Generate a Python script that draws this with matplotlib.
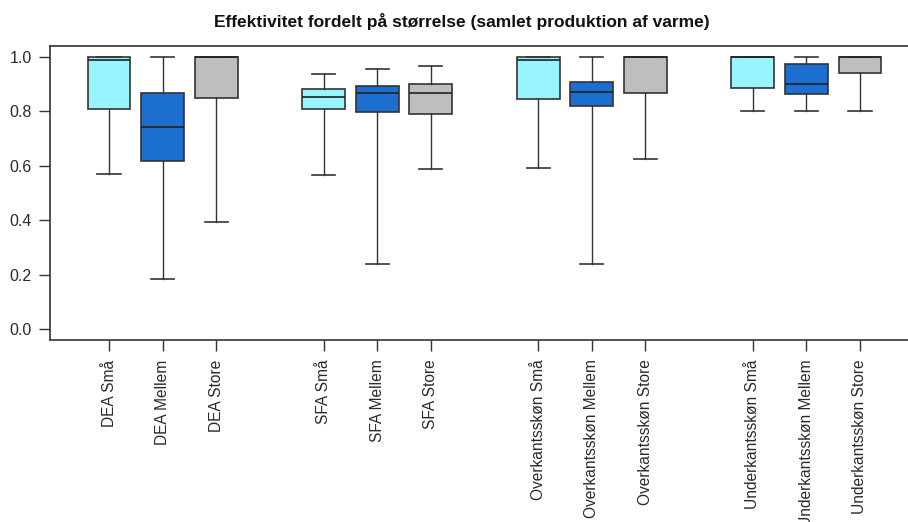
import matplotlib
matplotlib.use("Agg")
import matplotlib.pyplot as plt

plt.rcParams['font.family'] = ['Liberation Sans', 'DejaVu Sans']

labels = ["DEA Små", "DEA Mellem", "DEA Store",
          "SFA Små", "SFA Mellem", "SFA Store",
          "Overkantsskøn Små", "Overkantsskøn Mellem", "Overkantsskøn Store",
          "Underkantsskøn Små", "Underkantsskøn Mellem", "Underkantsskøn Store"]
positions = [1, 2, 3, 5, 6, 7, 9, 10, 11, 13, 14, 15]

whislo = [0.570, 0.184, 0.394, 0.567, 0.241, 0.589, 0.592, 0.241, 0.625, 0.800, 0.800, 0.800]
q1     = [0.807, 0.617, 0.850, 0.807, 0.797, 0.789, 0.845, 0.818, 0.868, 0.886, 0.864, 0.942]
med    = [0.989, 0.742, 1.000, 0.853, 0.866, 0.868, 0.989, 0.872, 1.000, 1.000, 0.901, 1.000]
q3     = [1.000, 0.868, 1.000, 0.882, 0.893, 0.900, 1.000, 0.907, 1.000, 1.000, 0.974, 1.000]
whishi = [1.000, 1.000, 1.000, 0.936, 0.954, 0.965, 1.000, 1.000, 1.000, 1.000, 1.000, 1.000]

size_colors = ["#98F5FF", "#1C6ECF", "#BEBEBE"]
title = "Effektivitet fordelt på størrelse (samlet produktion af varme)"

stats = []
for i in range(len(labels)):
    stats.append(dict(label=labels[i], whislo=whislo[i], q1=q1[i], med=med[i],
                      q3=q3[i], whishi=whishi[i], fliers=[]))

fig = plt.figure(figsize=(9.08, 5.22), dpi=100)
ax = fig.add_axes([50/908, 1-340/522, 869/908, 294/522])

edge = "#333333"
bp = ax.bxp(stats, positions=positions, widths=0.8, patch_artist=True,
            showfliers=False,
            boxprops=dict(edgecolor=edge, linewidth=1.2),
            whiskerprops=dict(color=edge, linewidth=1.0),
            capprops=dict(color=edge, linewidth=1.2),
            medianprops=dict(color="#222222", linewidth=1.2),
            capwidths=0.43)
for i, patch in enumerate(bp['boxes']):
    patch.set_facecolor(size_colors[i % 3])

ax.set_xlim(-0.1, 16.1)
ax.set_ylim(-0.04, 1.04)
ax.set_yticks([0.0, 0.2, 0.4, 0.6, 0.8, 1.0])
ax.set_yticklabels(["0.0", "0.2", "0.4", "0.6", "0.8", "1.0"])
ax.set_xticks(positions)
ax.set_xticklabels(labels, rotation=90, va="top", ha="center")
ax.tick_params(axis="both", length=8, width=1, color=edge,
               labelcolor="#2a2a2a")
ax.tick_params(axis="x", pad=6, labelsize=11.2)
ax.tick_params(axis="y", pad=5, labelsize=11.5)
for s in ax.spines.values():
    s.set_color(edge)
    s.set_linewidth(1.2)

fig.text(462/908, 1-22/522, title, ha="center", va="center",
         fontsize=12.5, fontweight="bold", color="#111111")

fig.savefig("out.png", dpi=100)
